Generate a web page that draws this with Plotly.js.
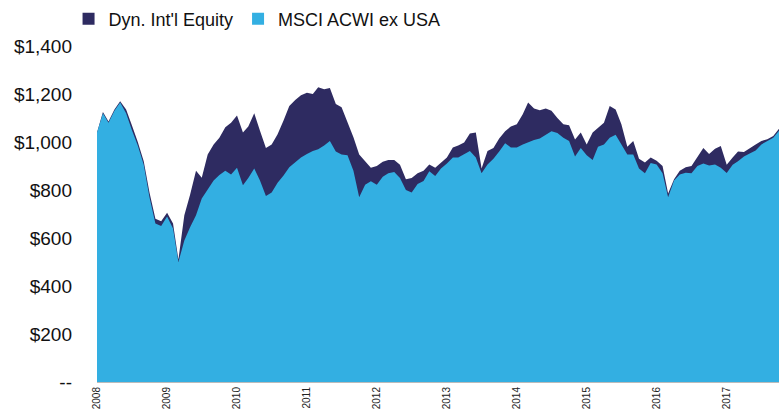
<!DOCTYPE html>
<html>
<head>
<meta charset="utf-8">
<script src="https://cdn.plot.ly/plotly-3.0.1.min.js"></script>
<style>
  html, body { margin: 0; padding: 0; background: #fff; }
  #chart { width: 779px; height: 412px; }
</style>
</head>
<body>
<div id="chart"></div>
<script>
// Monthly readings, Jan 2008 .. Oct 2017 (value of $1,000 investment)
const seriesNames = ["Dyn. Int'l Equity", "MSCI ACWI ex USA"];
const seriesColors = ["#2e2b61", "#33afe2"];

const dynIntlEquity = [
  1040, 1125, 1085, 1135, 1170, 1135, 1070, 1000, 920, 790, 680, 670,
  705, 660, 510, 695, 780, 880, 851, 948, 990, 1018, 1061, 1080,
  1110, 1040, 1065, 1120, 1047, 975, 990, 1032, 1090, 1150, 1175, 1195,
  1205, 1200, 1228, 1220, 1225, 1158, 1145, 1085, 1020, 948, 922, 893,
  900, 918, 925, 925, 905, 845, 850, 870, 880, 906, 893, 915,
  935, 977, 985, 998, 1035, 1040, 890, 963, 975, 1015, 1045, 1065,
  1074, 1116, 1165, 1140, 1132, 1140, 1130, 1100, 1074, 1070, 1010, 1040,
  990, 1040, 1058, 1080, 1150, 1135, 1074, 980, 1004, 930, 915, 935,
  922, 900, 785, 845, 880, 895, 900, 940, 975, 950, 972, 983,
  905, 935, 960, 958, 975, 990, 1004, 1011, 1025, 1055
];

const msciAcwiExUsa = [
  1040, 1120, 1080, 1130, 1165, 1120, 1050, 985, 905, 770, 660, 650,
  690, 640, 500, 590, 645, 695, 765, 805, 840, 862, 880, 865,
  893, 820, 850, 890, 840, 775, 790, 830, 860, 895, 915, 935,
  950, 963, 970, 985, 1004, 960, 948, 945, 880, 770, 822, 836,
  822, 855, 870, 875, 850, 800, 790, 825, 838, 878, 858, 890,
  910, 935, 935, 948, 963, 935, 870, 906, 930, 960, 995, 977,
  977, 990, 1000, 1008, 1015, 1030, 1045, 1038, 1018, 1004, 940, 975,
  945, 925, 980, 990, 1018, 1030, 990, 948, 948, 890, 870, 913,
  906, 870, 770, 840, 865, 872, 870, 900, 910, 902, 906, 893,
  871, 905, 920, 940, 952, 965, 990, 1004, 1018, 1047
];

const yTickVals = [0, 200, 400, 600, 800, 1000, 1200, 1400];
const yTickText = ["--", "$200", "$400", "$600", "$800", "$1,000", "$1,200", "$1,400"];

// month dates
const dates = [];
for (let i = 0; i < msciAcwiExUsa.length; i++) {
  const y = 2008 + Math.floor(i / 12);
  const m = (i % 12) + 1;
  dates.push(y + "-" + String(m).padStart(2, "0") + "-01");
}

const FONT = "Liberation Sans, Arial, Helvetica, sans-serif";

const traces = [
  {
    x: dates, y: dynIntlEquity, type: "scatter", mode: "lines",
    fill: "tozeroy", fillcolor: seriesColors[0],
    line: { width: 0, color: seriesColors[0] },
    showlegend: false, hoverinfo: "skip"
  },
  {
    x: dates, y: msciAcwiExUsa, type: "scatter", mode: "lines",
    fill: "tozeroy", fillcolor: seriesColors[1],
    line: { width: 0, color: seriesColors[1] },
    showlegend: false, hoverinfo: "skip"
  },
  // legend entries (square swatches)
  {
    x: [null], y: [null], type: "scatter", mode: "markers", name: seriesNames[0],
    marker: { symbol: "square", size: 12, color: seriesColors[0] }
  },
  {
    x: [null], y: [null], type: "scatter", mode: "markers", name: seriesNames[1],
    marker: { symbol: "square", size: 12, color: seriesColors[1] }
  }
];

const layout = {
  width: 779, height: 412,
  margin: { l: 97, r: 0, t: 46, b: 30 },
  paper_bgcolor: "#ffffff",
  plot_bgcolor: "#ffffff",
  font: { family: FONT, color: "#111111" },
  showlegend: true,
  legend: {
    orientation: "h",
    xref: "container", yref: "container",
    x: 0.088, xanchor: "left",
    y: 1 - 19 / 412, yanchor: "middle",
    font: { family: FONT, size: 18, color: "#111111" },
    itemwidth: 30,
    itemclick: false,
    bgcolor: "rgba(0,0,0,0)"
  },
  xaxis: {
    type: "date",
    range: ["2008-01-01", "2017-10-01"],
    tickvals: ["2008-01-01", "2009-01-01", "2010-01-01", "2011-01-01", "2012-01-01",
               "2013-01-01", "2014-01-01", "2015-01-01", "2016-01-01", "2017-01-01"],
    tickformat: "%Y",
    tickangle: -90,
    tickfont: { family: FONT, size: 10, color: "#222222" },
    showgrid: false,
    zeroline: false,
    showline: true,
    linecolor: "#bbbbbb",
    linewidth: 1,
    ticks: "",
    automargin: false,
    fixedrange: true
  },
  yaxis: {
    range: [0, 1400],
    tickvals: yTickVals,
    ticktext: yTickText,
    tickfont: { family: FONT, size: 19, color: "#111111" },
    showgrid: false,
    zeroline: false,
    showline: false,
    ticks: "",
    ticklabelstandoff: 24,
    automargin: false,
    fixedrange: true
  }
};

Plotly.newPlot("chart", traces, layout, { displayModeBar: false, staticPlot: true });
</script>
</body>
</html>
